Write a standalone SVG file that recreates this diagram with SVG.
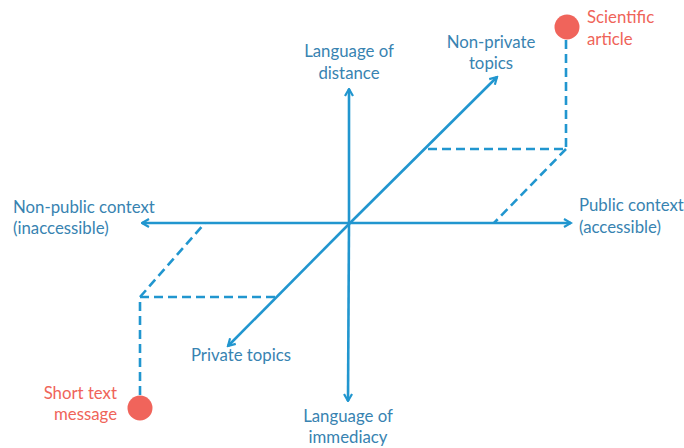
<svg xmlns="http://www.w3.org/2000/svg" width="684" height="448" viewBox="0 0 684 448">
  <style>
    .axis { stroke: #2196cf; stroke-width: 2.6; fill: none; stroke-linecap: butt; }
    .guide { stroke: #2196cf; stroke-width: 2.6; fill: none; stroke-dasharray: 9 5; }
    .lbl { font-family: Lato, "Liberation Sans", sans-serif; font-size: 16.8px; fill: #3883b1; }
    .red { font-family: Lato, "Liberation Sans", sans-serif; font-size: 16.8px; fill: #ef6459; }
    .dot { fill: #f0645b; }
  </style>
  <defs>
    <marker id="head" viewBox="0 0 10 10" refX="8.5" refY="5" markerWidth="10" markerHeight="10" markerUnits="userSpaceOnUse" orient="auto">
      <path d="M1.5 1 L8.5 5 L1.5 9" fill="none" stroke="#2196cf" stroke-width="2.2" stroke-linejoin="miter"/>
    </marker>
  </defs>

  <g id="connectors">
    <!-- three axes -->
    <line class="axis" x1="349" y1="223" x2="349" y2="89" marker-end="url(#head)"/>
    <line class="axis" x1="349" y1="223" x2="348" y2="401" marker-end="url(#head)"/>
    <line class="axis" x1="349" y1="223" x2="571" y2="223" marker-end="url(#head)"/>
    <line class="axis" x1="349" y1="223" x2="142" y2="223" marker-end="url(#head)"/>
    <line class="axis" x1="349" y1="224" x2="497" y2="77" marker-end="url(#head)"/>
    <line class="axis" x1="349" y1="224" x2="228" y2="346" marker-end="url(#head)"/>
    <!-- projection of the scientific article -->
    <polyline class="guide" points="566,40 566,149 427,149"/>
    <line class="guide" x1="566" y1="149" x2="494" y2="223"/>
    <!-- projection of the short text message -->
    <polyline class="guide" points="140,395 140,297 277,297"/>
    <line class="guide" x1="140" y1="297" x2="205" y2="223"/>
  </g>

  <g id="distance">
    <text class="lbl" x="349" y="57" text-anchor="middle">Language of</text>
    <text class="lbl" x="349" y="79" text-anchor="middle">distance</text>
  </g>
  <g id="immediacy">
    <text class="lbl" x="348" y="422" text-anchor="middle">Language of</text>
    <text class="lbl" x="348" y="443" text-anchor="middle">immediacy</text>
  </g>
  <g id="non-private">
    <text class="lbl" x="491" y="48" text-anchor="middle">Non-private</text>
    <text class="lbl" x="491" y="69" text-anchor="middle">topics</text>
  </g>
  <g id="private">
    <text class="lbl" x="241" y="361" text-anchor="middle">Private topics</text>
  </g>
  <g id="public">
    <text class="lbl" x="579" y="211">Public context</text>
    <text class="lbl" x="579" y="233">(accessible)</text>
  </g>
  <g id="non-public">
    <text class="lbl" x="13" y="213">Non-public context</text>
    <text class="lbl" x="13" y="234">(inaccessible)</text>
  </g>
  <g id="scientific-article">
    <circle class="dot" cx="567" cy="27" r="12.5"/>
    <text class="red" x="587" y="23">Scientific</text>
    <text class="red" x="587" y="45">article</text>
  </g>
  <g id="short-text-message">
    <circle class="dot" cx="140" cy="408" r="12.5"/>
    <text class="red" x="117" y="399" text-anchor="end">Short text</text>
    <text class="red" x="117" y="420" text-anchor="end">message</text>
  </g>
</svg>
